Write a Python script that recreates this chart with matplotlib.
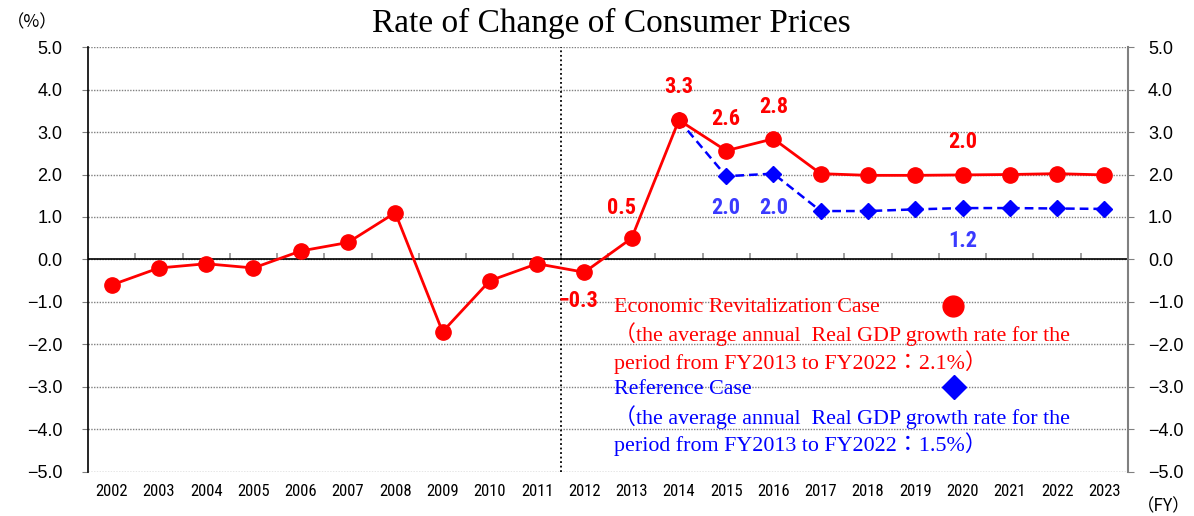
import matplotlib
matplotlib.use("Agg")
import matplotlib.pyplot as plt
from matplotlib import font_manager
import numpy as np

# fiscal years and CPI rate of change (%)
years = ["2002", "2003", "2004", "2005", "2006", "2007", "2008", "2009", "2010", "2011", "2012",
         "2013", "2014", "2015", "2016", "2017", "2018", "2019", "2020", "2021", "2022", "2023"]
revital = [-0.6, -0.2, -0.1, -0.2, 0.2, 0.4, 1.1, -1.7, -0.5, -0.1, -0.3,
           0.5, 3.28, 2.56, 2.84, 2.02, 1.98, 1.98, 1.99, 2.0, 2.02, 1.99]
ref_years = years[12:]
reference = [3.28, 1.96, 2.02, 1.14, 1.14, 1.18, 1.21, 1.21, 1.2, 1.19]

# which points get a value label, and label offsets (points)
red_labels = {"2012": (-4, -21), "2013": (-7, 22), "2014": (0, 24), "2015": (0, 23),
              "2016": (0, 23), "2020": (0, 24)}
blue_labels = {"2015": (0, -23), "2016": (0, -25), "2020": (0, -24)}

RED = "#ff0000"
BLUE = "#0000ff"
LBLUE = "#3a3aff"

installed = {f.name for f in font_manager.fontManager.ttflist}
def pick(*names):
    for n in names:
        if n in installed:
            return n
    return "DejaVu Sans"

narrow_name = pick("Liberation Sans Narrow", "DejaVu Sans Condensed", "Roboto Condensed",
                   "Open Sans Condensed", "Liberation Sans")
narrow = [narrow_name, "DejaVu Sans"]
is_narrow = narrow_name != "Liberation Sans"
sans = ["Liberation Sans", "DejaVu Sans"]
serif = ["Liberation Serif", "Noto Sans CJK JP", "DejaVu Sans"]

fig = plt.figure(figsize=(11.94, 5.16), dpi=100)
ax = fig.add_axes([0.0737, 0.0853, 0.871, 0.8236])

x = np.arange(len(years))
xr = np.arange(len(years) - len(ref_years), len(years))

ax.plot(xr, reference, color=BLUE, lw=1.8, ls=(0, (3.5, 2)), marker="D", ms=8.5, zorder=3)
ax.plot(x, revital, color=RED, lw=2, marker="o", ms=11, zorder=4)

lab_size = 16 if is_narrow else 14
for yr, off in red_labels.items():
    i = years.index(yr)
    v = revital[i]
    ax.annotate(f"{v:.1f}".replace("-", "\u2212"), (i, v), xytext=off, textcoords="offset points",
                ha="center", va="center", color=RED, fontsize=lab_size, fontweight="bold",
                family=narrow, zorder=5)
for yr, off in blue_labels.items():
    i = ref_years.index(yr)
    v = reference[i]
    ax.annotate(f"{v:.1f}", (xr[i], v), xytext=off, textcoords="offset points",
                ha="center", va="center", color=LBLUE, fontsize=lab_size, fontweight="bold",
                family=narrow, zorder=5)

ax.set_xlim(-0.5, len(years) - 0.5)
ax.set_ylim(-5, 5)
yt = np.arange(-5, 5.1, 1.0)
ylabels = [f"{v:.1f}".replace("-", "\u2212") for v in yt]
ax.set_yticks(yt)
ax.set_yticklabels(ylabels, family=sans)
ax.set_xticks(x)
ax.set_xticklabels(years, family=narrow)

ax.grid(axis="y", color="#808080", ls=(0, (1, 1)), lw=1)
ax.axhline(0, color="black", lw=1.2, zorder=2)
ax.vlines(np.arange(-0.5, len(years)), 0, 0.16, color="#909090", lw=1.2, zorder=1)
ax.axvline(9.5, color="black", ls=(0, (1, 1.5)), lw=1.3, zorder=2)

for s in ["top", "bottom", "right"]:
    ax.spines[s].set_visible(False)
ax.spines["left"].set_color("black")
ax.spines["left"].set_linewidth(1.2)

ax.tick_params(axis="x", length=0, pad=9, labelsize=12 if is_narrow else 10)
ax.tick_params(axis="y", length=4.5, color="#808080", labelsize=13, pad=14)

# right-hand axis repeats the scale
axr = ax.twinx()
axr.set_ylim(ax.get_ylim())
axr.set_yticks(yt)
axr.set_yticklabels(ylabels, family=sans)
axr.tick_params(axis="y", length=4.5, color="#808080", labelsize=13, pad=10)
for s in ["top", "bottom", "left"]:
    axr.spines[s].set_visible(False)
axr.spines["right"].set_color("#808080")
axr.spines["right"].set_linewidth(1.5)

# legend block (custom text layout, keys at right of first line)
leg_lines = [
    ("Economic Revitalization Case", RED),
    ("\uff08the average annual  Real GDP growth rate for the", RED),
    ("period from FY2013 to FY2022\uff1a2.1%\uff09", RED),
    ("Reference Case", BLUE),
    ("\uff08the average annual  Real GDP growth rate for the", BLUE),
    ("period from FY2013 to FY2022\uff1a1.5%\uff09", BLUE),
]
y0 = 0.388
for k, (txt, col) in enumerate(leg_lines):
    ax.text(0.506, y0 - k * 0.0645, txt, transform=ax.transAxes, color=col, fontsize=15.8,
            family=serif, ha="left", va="center", zorder=6)
ax.plot([0.832], [0.391], transform=ax.transAxes, marker="o", ms=15, color=RED, clip_on=False)
ax.plot([0.833], [0.2], transform=ax.transAxes, marker="D", ms=12, color=BLUE, clip_on=False)

fig.text(0.512, 0.955, "Rate of Change of Consumer Prices", ha="center", va="center",
         fontsize=24, family=serif)
fig.text(0.006, 0.957, "\uff08%\uff09", ha="left", va="center", fontsize=12.5,
         family=["Noto Sans CJK JP", "DejaVu Sans"])
fig.text(0.997, 0.018, "\uff08FY\uff09", ha="right", va="center", fontsize=12.5,
         family=["Noto Sans CJK JP", "DejaVu Sans"])

fig.savefig("out.png", dpi=100)
